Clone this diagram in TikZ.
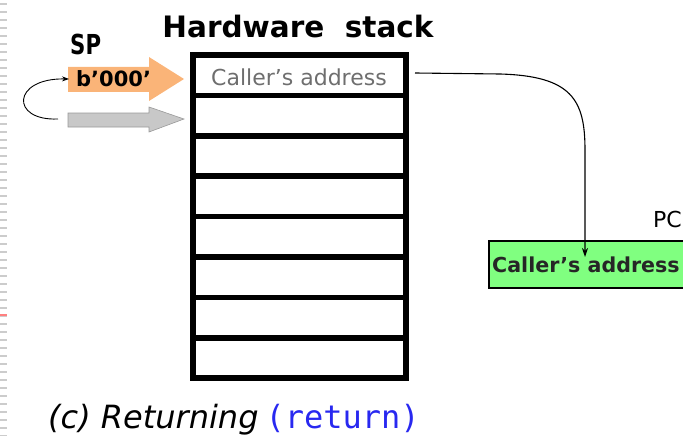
\documentclass[tikz,border=0pt]{standalone}
\usepackage{fontspec}
\setmainfont{DejaVu Sans}
\setmonofont{DejaVu Sans Mono}
\usetikzlibrary{arrows.meta}
\definecolor{orng}{RGB}{250,180,120}
\definecolor{gry}{RGB}{200,200,200}
\definecolor{grn}{RGB}{128,255,128}
\definecolor{txtgray}{RGB}{110,110,110}
\definecolor{codeblue}{RGB}{40,40,240}
\tikzset{
  cell/.style={draw=black, line width=5.5pt, minimum width=213pt, minimum height=40.4pt, inner sep=0pt},
  conn/.style={draw=black, line width=1.1pt, -{Stealth[length=9pt,width=6pt]}},
  tick/.style={draw=gray!40, line width=1.2pt},
}
\begin{document}
\begin{tikzpicture}[x=1pt,y=-1pt]
\useasboundingbox (0,0) rectangle (683,436);
% margin ticks
\foreach \y in {4,12,...,436} { \draw[tick] (0,\y) -- (7,\y); }
\draw[red!50, line width=1.2pt] (0,315) -- (7,315);
% title
\node[font=\fontsize{29.5}{32}\selectfont\bfseries, anchor=base, inner sep=0pt] (title) at (298,38) {Hardware\ \ stack};
% stack rows
\foreach \i in {1,...,8} {
  \node[cell] (row\i) at (299.5, {55+40.4*(\i-0.5)}) {};
}
\node[font=\fontsize{22}{25}\selectfont, text=txtgray, anchor=base, inner sep=0pt] (ca) at (299,85) {Caller's address};
% SP
\node[anchor=base west, inner sep=0pt] (sp) at (70,55) {\scalebox{0.85}[1.1]{\fontsize{25}{28}\selectfont\bfseries SP}};
% orange arrow
\fill[orng] (68,67) -- (149,67) -- (149,57) -- (184,79) -- (149,101) -- (149,92) -- (68,92) -- cycle;
\node[font=\fontsize{21}{24}\selectfont\bfseries, anchor=base west, inner sep=0pt] (val) at (76,87) {b’000’};
% gray arrow
\filldraw[fill=gry, draw=gray!80, line width=0.6pt] (68,113) -- (149,113) -- (149,107) -- (184,119) -- (149,132) -- (149,127) -- (68,127) -- cycle;
\coordinate (gs) at (58,119);
\coordinate (ot) at (69,79);
\draw[conn, line width=0.9pt, -{Stealth[length=7pt,width=5pt]}] (gs) .. controls (10,121) and (12,78) .. (ot);
% green box
\node[draw=black, line width=1.8pt, fill=grn, minimum height=47pt, minimum width=210pt, anchor=north west, inner sep=0pt] (pcbox) at (488,240) {};
\node[font=\fontsize{20.6}{24}\selectfont\bfseries, text=black!85, anchor=base west, inner sep=0pt] (pctxt) at (492,272) {Caller's address};
\node[font=\fontsize{22}{25}\selectfont, anchor=base west, inner sep=0pt] (pc) at (653,227) {PC};
% connector
\coordinate (cs) at (415,73);
\coordinate (ce) at (585,257);
\draw[conn] (cs) -- (500,74) .. controls (572,76) and (585,100) .. (585,150) -- (ce);
% caption
\node[anchor=base west, inner sep=0pt, font=\fontsize{32}{36}\selectfont] (cap) at (48,428) {\textit{(c) Returning}\hspace{7pt}\textcolor{codeblue}{\ttfamily (return)}};
\end{tikzpicture}
\end{document}
